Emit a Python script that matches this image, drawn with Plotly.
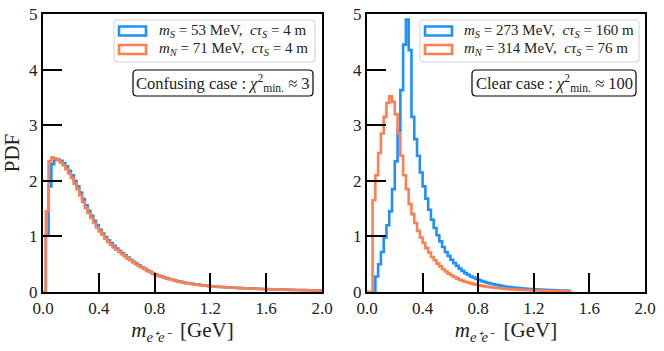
import numpy as np
import plotly.graph_objects as go

W, H = 664, 351
FONT = "Liberation Serif"
BLUE = "#1e90ff"
ORANGE = "#ff7f50"

bin_width = 0.02

# left panel: confusing case (bins of 0.02 GeV starting at 0)
left_blue = [
    0, 1.03, 1.9, 2.3, 2.38, 2.38, 2.36, 2.32, 2.26, 2.18,
    2.10, 2.00, 1.90, 1.79, 1.67, 1.56, 1.46, 1.37, 1.28, 1.20,
    1.12, 1.05, 0.99, 0.93, 0.88, 0.83, 0.78, 0.74, 0.70, 0.66,
    0.62, 0.58, 0.545, 0.51, 0.48, 0.45, 0.42, 0.39, 0.365, 0.34,
    0.315, 0.295, 0.28, 0.265, 0.25, 0.235, 0.22, 0.205, 0.193, 0.182,
    0.172, 0.162, 0.154, 0.146, 0.139, 0.132, 0.125, 0.119, 0.113, 0.107,
    0.101, 0.098, 0.095, 0.092, 0.089, 0.086, 0.083, 0.080, 0.077, 0.074,
    0.071, 0.069, 0.067, 0.065, 0.063, 0.061, 0.059, 0.057, 0.055, 0.053,
    0.051, 0.049, 0.048, 0.046, 0.045, 0.043, 0.042, 0.040, 0.039, 0.038,
    0.037, 0.036, 0.035, 0.034, 0.033, 0.032, 0.031, 0.030, 0.029, 0.028,
]
left_orange = [
    0, 1.45, 2.35, 2.42, 2.40, 2.37, 2.33, 2.28, 2.21, 2.13,
    2.05, 1.95, 1.85, 1.74, 1.62, 1.51, 1.42, 1.33, 1.24, 1.16,
    1.09, 1.03, 0.96, 0.90, 0.85, 0.80, 0.76, 0.72, 0.68, 0.64,
    0.60, 0.57, 0.53, 0.50, 0.47, 0.44, 0.41, 0.38, 0.36, 0.33,
    0.31, 0.29, 0.275, 0.26, 0.245, 0.23, 0.215, 0.20, 0.19, 0.18,
    0.17, 0.16, 0.152, 0.145, 0.138, 0.13, 0.124, 0.118, 0.112, 0.106,
    0.10, 0.097, 0.094, 0.091, 0.088, 0.085, 0.082, 0.079, 0.076, 0.073,
    0.07, 0.068, 0.066, 0.064, 0.062, 0.06, 0.058, 0.056, 0.054, 0.052,
    0.05, 0.049, 0.047, 0.046, 0.044, 0.043, 0.041, 0.04, 0.039, 0.037,
    0.036, 0.035, 0.034, 0.033, 0.032, 0.031, 0.03, 0.029, 0.028, 0.027,
]

# right panel: clear case
right_blue = [
    0, 0, 0, 0.28, 0.5, 0.72, 0.98, 1.2, 1.45, 1.85,
    2.35, 2.9, 3.63, 4.45, 4.9, 4.35, 3.15, 2.75, 2.45, 2.15,
    1.9, 1.68, 1.48, 1.3, 1.15, 1.02, 0.91, 0.81, 0.72, 0.65,
    0.58, 0.52, 0.47, 0.42, 0.38, 0.34, 0.31, 0.28, 0.26, 0.235,
    0.215, 0.195, 0.18, 0.165, 0.152, 0.14, 0.13, 0.12, 0.11, 0.10,
    0.094, 0.088, 0.082, 0.077, 0.072, 0.067, 0.063, 0.059, 0.055, 0.052,
    0.049, 0.046, 0.043, 0.04, 0.038, 0.036, 0.034, 0.032, 0.03, 0.028,
    0.026, 0.024, 0.022,
]
right_orange = [
    0, 0, 1.65, 2.1, 2.5, 2.85, 3.15, 3.4, 3.52, 3.42,
    3.2, 2.85, 2.45, 2.1, 1.85, 1.58, 1.4, 1.24, 1.1, 0.98,
    0.88, 0.79, 0.71, 0.63, 0.57, 0.51, 0.46, 0.41, 0.37, 0.33,
    0.30, 0.27, 0.245, 0.22, 0.20, 0.185, 0.17, 0.155, 0.142, 0.13,
    0.12, 0.11, 0.10, 0.093, 0.086, 0.08, 0.074, 0.069, 0.064, 0.06,
    0.056, 0.052, 0.048, 0.045, 0.042, 0.039, 0.036, 0.034, 0.032, 0.03,
    0.028, 0.026, 0.024, 0.022, 0.021, 0.02, 0.018, 0.017, 0.016, 0.015,
    0.014, 0.013, 0.012,
]

left_labels = ["<i>m<sub>S</sub></i> = 53 MeV,  <i>cτ<sub>S</sub></i> = 4 m",
               "<i>m<sub>N</sub></i> = 71 MeV,  <i>cτ<sub>S</sub></i> = 4 m"]
right_labels = ["<i>m<sub>S</sub></i> = 273 MeV,  <i>cτ<sub>S</sub></i> = 160 m",
                "<i>m<sub>N</sub></i> = 314 MeV,  <i>cτ<sub>S</sub></i> = 76 m"]
left_note = "Confusing case : <i>χ</i><sup>2</sup><sub>min.</sub> ≈ 3"
right_note = "Clear case : <i>χ</i><sup>2</sup><sub>min.</sub> ≈ 100"
xtitle = "<i>m<sub>e⁺e⁻</sub></i>  [GeV]"


def step_xy(vals):
    edges = np.round(np.arange(len(vals) + 1) * bin_width, 4)
    x = [edges[0]] + list(edges)
    y = [0] + list(vals) + [0]
    return x, y


def px(x):
    return x / W


def py(y):
    return 1 - y / H


def rounded_box(x0, y0, x1, y1, r):
    pts = [
        ("M", x0 + r, y0), ("L", x1 - r, y0), ("Q", x1, y0, x1, y0 + r),
        ("L", x1, y1 - r), ("Q", x1, y1, x1 - r, y1), ("L", x0 + r, y1),
        ("Q", x0, y1, x0, y1 - r), ("L", x0, y0 + r), ("Q", x0, y0, x0 + r, y0),
    ]
    out = []
    for p in pts:
        cmd, coords = p[0], p[1:]
        s = " ".join(f"{px(coords[i]):.5f},{py(coords[i + 1]):.5f}"
                     for i in range(0, len(coords), 2))
        out.append(cmd + s)
    return "".join(out) + "Z"


fig = go.Figure()
for vals, color, xa in [(left_blue, BLUE, "x"), (left_orange, ORANGE, "x"),
                        (right_blue, BLUE, "x2"), (right_orange, ORANGE, "x2")]:
    x, y = step_xy(vals)
    fig.add_trace(go.Scatter(x=x, y=y, mode="lines", xaxis=xa,
                             yaxis="y" if xa == "x" else "y2",
                             line=dict(color=color, width=2.6, shape="hv"),
                             showlegend=False, hoverinfo="skip"))

axis_common = dict(showline=True, linecolor="black", linewidth=2, mirror=True,
                   ticks="inside", ticklen=19, tickwidth=2, tickcolor="black",
                   showgrid=False, zeroline=False, automargin=False,
                   tickfont=dict(family=FONT, size=17, color="#222"))
xaxis_common = dict(axis_common, range=[0, 2], tickvals=[0, 0.4, 0.8, 1.2, 1.6, 2.0],
                    tickformat=".1f",
                    title=dict(text=xtitle, font=dict(family=FONT, size=21, color="#222"),
                               standoff=4))
yaxis_common = dict(axis_common, range=[0, 5], tickvals=[0, 1, 2, 3, 4, 5])

ydom = [(H - 292) / H, (H - 14) / H]
fig.update_layout(
    width=W, height=H, margin=dict(l=0, r=0, t=0, b=0),
    paper_bgcolor="white", plot_bgcolor="white",
    xaxis=dict(xaxis_common, domain=[43 / W, 322 / W], anchor="y"),
    yaxis=dict(yaxis_common, domain=ydom, anchor="x",
               title=dict(text="PDF", font=dict(family=FONT, size=21, color="#222"),
                          standoff=8)),
    xaxis2=dict(xaxis_common, domain=[367 / W, 645 / W], anchor="y2"),
    yaxis2=dict(yaxis_common, domain=ydom, anchor="x2"),
)

shapes = []
annotations = []
panels = [
    # legend box x0, x1, patch x0, text x, note box x0, x1, labels, note
    (114, 315, 119, 157, 133, 313, left_labels, left_note),
    (420, 639, 425, 462, 472, 636, right_labels, right_note),
]
for lx0, lx1, patch_x, text_x, nx0, nx1, labels, note in panels:
    shapes.append(dict(type="path", xref="paper", yref="paper",
                       path=rounded_box(lx0, 20, lx1, 62, 3),
                       line=dict(color="#d0d0d0", width=1), fillcolor="white"))
    for (yc, color, label) in [(31, BLUE, labels[0]), (49.5, ORANGE, labels[1])]:
        shapes.append(dict(type="rect", xref="paper", yref="paper",
                           x0=px(patch_x), x1=px(patch_x + 27),
                           y0=py(yc - 4.5), y1=py(yc + 4.5),
                           line=dict(color=color, width=2.6), fillcolor="white"))
        annotations.append(dict(text=label, xref="paper", yref="paper",
                                x=px(text_x), y=py(yc), xanchor="left", yanchor="middle",
                                showarrow=False,
                                font=dict(family=FONT, size=15, color="#222")))
    shapes.append(dict(type="path", xref="paper", yref="paper",
                       path=rounded_box(nx0, 70, nx1, 96, 4),
                       line=dict(color="black", width=1.2), fillcolor="white"))
    annotations.append(dict(text=note, xref="paper", yref="paper",
                            x=px((nx0 + nx1) / 2), y=py(83), xanchor="center",
                            yanchor="middle", showarrow=False,
                            font=dict(family=FONT, size=16.5, color="#222")))

fig.update_layout(shapes=shapes, annotations=annotations)

fig.write_html("out.html", config={"displayModeBar": False},
               post_script="document.body.style.margin = '0';")
